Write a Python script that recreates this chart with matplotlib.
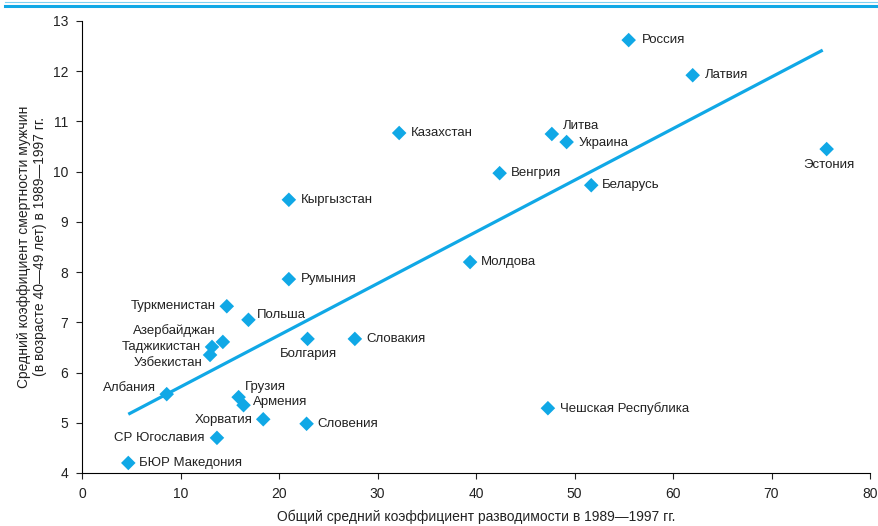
import matplotlib
matplotlib.use("Agg")
import matplotlib.pyplot as plt
from matplotlib.lines import Line2D
from matplotlib import font_manager

names = {f.name for f in font_manager.fontManager.ttflist}
fam = ['Liberation Sans Narrow', 'DejaVu Sans'] if 'Liberation Sans Narrow' in names else ['Liberation Sans', 'DejaVu Sans']
plt.rcParams['font.family'] = fam

countries = ["Россия", "Латвия", "Эстония", "Казахстан", "Литва", "Украина", "Венгрия",
             "Беларусь", "Кыргызстан", "Молдова", "Румыния", "Туркменистан", "Польша",
             "Азербайджан", "Таджикистан", "Узбекистан", "Болгария", "Словакия", "Албания",
             "Грузия", "Армения", "Хорватия", "Словения", "Чешская Республика",
             "СР Югославия", "БЮР Македония"]
divorce = [55.5, 62.0, 75.6, 32.2, 47.7, 49.2, 42.4, 51.7, 21.0, 39.4, 21.0, 14.7, 16.9,
           14.3, 13.2, 13.0, 22.9, 27.7, 8.6, 15.9, 16.4, 18.4, 22.8, 47.3, 13.7, 4.7]
mortality = [12.62, 11.92, 10.45, 10.77, 10.75, 10.59, 9.97, 9.73, 9.44, 8.20, 7.86, 7.32, 7.05,
             6.61, 6.51, 6.35, 6.67, 6.67, 5.57, 5.51, 5.35, 5.07, 4.98, 5.29, 4.70, 4.20]
trend_x = [4.7, 75.2]
trend_y = [5.17, 12.42]
x_ticks = [0, 10, 20, 30, 40, 50, 60, 70, 80]
y_ticks = [4, 5, 6, 7, 8, 9, 10, 11, 12, 13]

# label placement: (dx px, dy px (up), ha)
place = {
    "Россия": (13, 0, 'left'), "Латвия": (12, 0, 'left'), "Эстония": (2, -16, 'center'),
    "Казахстан": (12, 0, 'left'), "Литва": (11, 8, 'left'), "Украина": (12, -1, 'left'),
    "Венгрия": (11, 0, 'left'), "Беларусь": (11, 0, 'left'), "Кыргызстан": (12, 0, 'left'),
    "Молдова": (11, 0, 'left'), "Румыния": (12, 0, 'left'), "Туркменистан": (-11, 0, 'right'),
    "Польша": (8, 5, 'left'), "Азербайджан": (-7, 11, 'right'), "Таджикистан": (-11, 0, 'right'),
    "Узбекистан": (-8, -8, 'right'), "Болгария": (1, -15, 'center'), "Словакия": (12, 0, 'left'),
    "Албания": (-11, 6, 'right'), "Грузия": (6, 10, 'left'), "Армения": (9, 3, 'left'),
    "Хорватия": (-11, -1, 'right'), "Словения": (11, 0, 'left'),
    "Чешская Республика": (12, 0, 'left'), "СР Югославия": (-12, 0, 'right'),
    "БЮР Македония": (11, 0, 'left'),
}

blue = '#10a8e6'
fig = plt.figure(figsize=(8.79, 5.26), dpi=100)
ax = fig.add_axes([82/879, 1-473/526, (870-82)/879, (473-21)/526])

ax.plot(trend_x, trend_y, color=blue, lw=2.3, solid_capstyle='butt', zorder=2)
ax.scatter(divorce, mortality, marker='D', s=55, color=blue, edgecolors='none', zorder=3)

for name, x, y in zip(countries, divorce, mortality):
    dx, dy, ha = place[name]
    ax.annotate(name, (x, y), xytext=(dx*0.72, dy*0.72), textcoords='offset points',
                ha=ha, va='center', fontsize=9.5, color='#222222')

ax.set_xlim(0, 80)
ax.set_ylim(4, 13)
ax.set_xticks(x_ticks)
ax.set_yticks(y_ticks)
ax.tick_params(direction='out', length=4, width=0.8, labelsize=10, colors='#222222', pad=6)
for s in ['top', 'right']:
    ax.spines[s].set_visible(False)
for s in ['left', 'bottom']:
    ax.spines[s].set_linewidth(0.8)
ax.set_xlabel("Общий средний коэффициент разводимости в 1989—1997 гг.", fontsize=10, color='#222222', labelpad=6)
ax.set_ylabel("Средний коэффициент смертности мужчин\n(в возрасте 40—49 лет) в 1989—1997 гг.", fontsize=10, color='#222222', labelpad=4)

fig.add_artist(Line2D([5/879, 1], [1-2/526, 1-2/526], transform=fig.transFigure, color='#7fd0f2', lw=0.8))
fig.add_artist(Line2D([5/879, 1], [1-5.5/526, 1-5.5/526], transform=fig.transFigure, color=blue, lw=2.2))

fig.savefig('out.png', dpi=100)
